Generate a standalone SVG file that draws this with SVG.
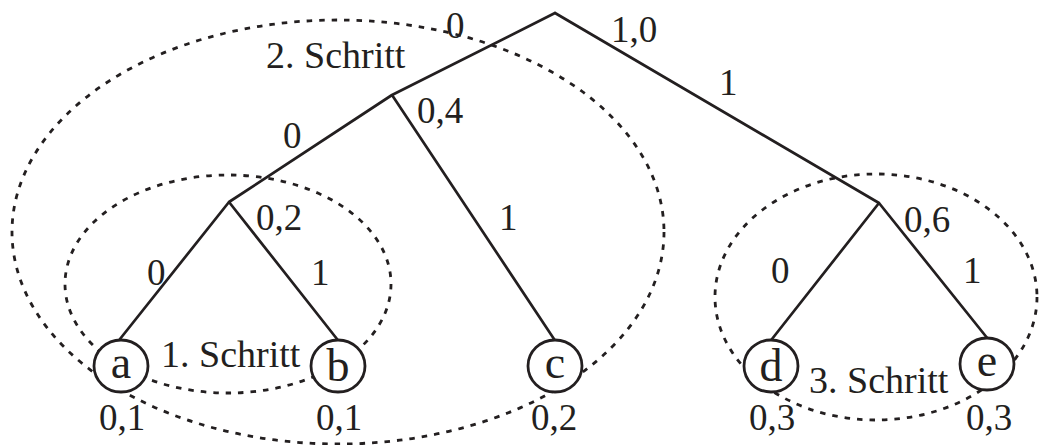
<svg xmlns="http://www.w3.org/2000/svg" width="1039" height="445" viewBox="0 0 1039 445">
<style>
.e{fill:none;stroke:#231f20;stroke-width:2.7;stroke-linecap:round}
.d{fill:none;stroke:#231f20;stroke-width:2.8;stroke-dasharray:5.5 7}
.n{fill:#fff;stroke:#231f20;stroke-width:2.8}
text{font-family:"Liberation Serif","Times New Roman",serif;fill:#231f20}
.l{font-size:37px}
.s{font-size:38px}
.k{font-size:46px;text-anchor:middle}
</style>
<rect width="1039" height="445" fill="#fff"/>
<g id="steps">
<ellipse class="d" cx="338" cy="232" rx="326" ry="212"/>
<ellipse class="d" cx="228" cy="284" rx="163" ry="109"/>
<ellipse class="d" cx="876" cy="297" rx="161" ry="123"/>
</g>
<g id="connectors">
<path class="e" d="M555,13 L392,95 M555,13 L879,203 M392,95 L229,202 M392,95 L554,339 M229,202 L120,339 M229,202 L337,339 M879,203 L772,339 M879,203 L988,339"/>
</g>
<g id="node-a"><ellipse class="n" cx="121" cy="366" rx="27" ry="26"/><text class="k" x="121" y="378">a</text></g>
<g id="node-b"><ellipse class="n" cx="338" cy="366" rx="27" ry="26"/><text class="k" x="338" y="381">b</text></g>
<g id="node-c"><ellipse class="n" cx="555" cy="366" rx="27" ry="26"/><text class="k" x="555" y="378">c</text></g>
<g id="node-d"><ellipse class="n" cx="771" cy="366" rx="27" ry="26"/><text class="k" x="771" y="381">d</text></g>
<g id="node-e"><ellipse class="n" cx="987" cy="364" rx="27" ry="26"/><text class="k" x="987" y="376">e</text></g>
<g id="labels">
<text class="s" x="266" y="68">2. Schritt</text>
<text class="s" x="161" y="367">1. Schritt</text>
<text class="s" x="809" y="393">3. Schritt</text>
<text class="l" x="446" y="38">0</text>
<text class="l" x="611" y="42">1,0</text>
<text class="l" x="719" y="95">1</text>
<text class="l" x="417" y="123">0,4</text>
<text class="l" x="283" y="148">0</text>
<text class="l" x="256" y="230">0,2</text>
<text class="l" x="499" y="230">1</text>
<text class="l" x="904" y="232">0,6</text>
<text class="l" x="147" y="285">0</text>
<text class="l" x="311" y="285">1</text>
<text class="l" x="771" y="283">0</text>
<text class="l" x="963" y="283">1</text>
<text class="l" x="99" y="430">0,1</text>
<text class="l" x="316" y="430">0,1</text>
<text class="l" x="531" y="430">0,2</text>
<text class="l" x="749" y="430">0,3</text>
<text class="l" x="966" y="430">0,3</text>
</g>
</svg>
